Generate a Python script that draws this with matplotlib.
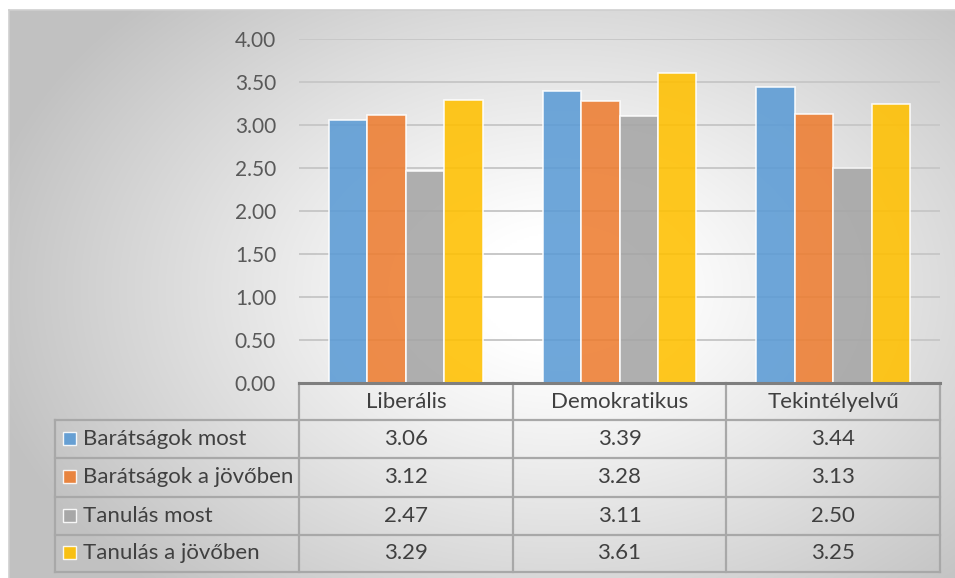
import numpy as np
import matplotlib
matplotlib.use("Agg")
import matplotlib.pyplot as plt
from matplotlib.transforms import blended_transform_factory
from matplotlib.patches import Rectangle

plt.rcParams['font.family'] = ['Lato', 'DejaVu Sans']

# ---- data -------------------------------------------------------------
categories = ["Liberális", "Demokratikus", "Tekintélyelvű"]
series_names = ["Barátságok most", "Barátságok a jövőben",
                "Tanulás most", "Tanulás a jövőben"]
barat_most = [3.06, 3.39, 3.44]
barat_jovo = [3.12, 3.28, 3.13]
tanul_most = [2.47, 3.11, 2.50]
tanul_jovo = [3.29, 3.61, 3.25]
y_ticks = [0.0, 0.5, 1.0, 1.5, 2.0, 2.5, 3.0, 3.5, 4.0]

series_values = [barat_most, barat_jovo, tanul_most, tanul_jovo]
colors = ["#5b9bd5", "#ed7d31", "#a5a5a5", "#ffc000"]

W, H = 955, 578
fig = plt.figure(figsize=(W / 100, H / 100), dpi=100)
fig.patch.set_facecolor("white")


def fx(px):
    return px / W


def fy(py):
    return 1 - py / H


# ---- radial gradient background ----------------------------------------
bx0, by0 = 9, 10
bg = fig.add_axes([fx(bx0), 0, 1 - fx(bx0), fy(by0)], zorder=0)
xs = np.linspace(bx0, W, 400)
ys = np.linspace(by0, H, 260)
X, Y = np.meshgrid(xs, ys)
cx, cy, rx, ry = 560, 290, 560, 390
d = np.sqrt(((X - cx) / rx) ** 2 + ((Y - cy) / ry) ** 2)
shade = 1.0 - 0.24 * np.clip((d - 0.15) / 0.9, 0, 1) ** 1.1
img = np.dstack([shade, shade, shade])
bg.imshow(img, aspect="auto", extent=[0, 1, 0, 1], origin="upper",
          interpolation="bilinear")
bg.set_xlim(0, 1)
bg.set_ylim(0, 1)
bg.set_xticks([])
bg.set_yticks([])
for s in ["right", "bottom"]:
    bg.spines[s].set_visible(False)
for s in ["top", "left"]:
    bg.spines[s].set_color("#cfcfcf")
    bg.spines[s].set_linewidth(1.2)

# ---- bar plot -----------------------------------------------------------
ax_l, ax_r, ax_t, ax_b = 299, 940, 39, 383
ax = fig.add_axes([fx(ax_l), fy(ax_b), fx(ax_r - ax_l), fy(ax_t) - fy(ax_b)],
                  zorder=2)
ax.patch.set_visible(False)

n = len(series_values)
bw = 0.18
x = np.arange(len(categories))
for i, (vals, col) in enumerate(zip(series_values, colors)):
    ax.bar(x + (i - (n - 1) / 2) * bw, vals, width=bw, color=col, alpha=0.88,
           edgecolor=(1, 1, 1, 0.55), linewidth=1.2, zorder=3)

ax.set_xlim(-0.5, len(categories) - 0.5)
ax.set_ylim(0, 4)
ax.set_yticks(y_ticks)
ax.set_yticklabels([f"{v:.2f}" for v in y_ticks])
ax.tick_params(axis="y", length=0, pad=16.5, labelsize=15, labelcolor="#595959")
ax.set_xticks([])
ax.yaxis.grid(True, color="#c8c8c8", linewidth=1.4, zorder=1)
ax.set_axisbelow(True)
for s in ax.spines.values():
    s.set_visible(False)

# ---- data table ----------------------------------------------------------
tr = blended_transform_factory(ax.transData, fig.transFigure)
line_col = "#a8a8a8"
text_col = "#404040"
tfs = 16
row_y = [383, 420, 458, 496.5, 534.5, 572]
col_x = [-0.5, 0.5, 1.5, 2.5]
left_px = 55

# horizontal lines
for yy in row_y[1:]:
    fig.add_artist(plt.Line2D([fx(left_px), fx(ax_r)], [fy(yy), fy(yy)],
                              transform=fig.transFigure, color=line_col,
                              linewidth=1.6, zorder=4))
# vertical lines for category columns
for cxv in col_x:
    fig.add_artist(plt.Line2D([cxv, cxv], [fy(row_y[0]), fy(row_y[-1])],
                              transform=tr, color=line_col, linewidth=1.6,
                              zorder=4))
# left column border
fig.add_artist(plt.Line2D([fx(left_px), fx(left_px)],
                          [fy(row_y[1]), fy(row_y[-1])],
                          transform=fig.transFigure, color=line_col,
                          linewidth=1.6, zorder=4))
# category axis baseline on top of the header row
fig.add_artist(plt.Line2D([-0.5, 2.5], [fy(row_y[0]), fy(row_y[0])],
                          transform=tr, color="#7f7f7f", linewidth=2.2,
                          zorder=5))

# header texts
for i, cat in enumerate(categories):
    fig.text(x[i], fy((row_y[0] + row_y[1]) / 2), cat, transform=tr,
             ha="center", va="center", fontsize=tfs, color=text_col, zorder=6)

# series rows
for r, (name, vals, col) in enumerate(zip(series_names, series_values, colors)):
    ymid = (row_y[r + 1] + row_y[r + 2]) / 2
    fig.add_artist(Rectangle((fx(63), fy(ymid + 6)), fx(13), fy(ymid - 7) - fy(ymid + 6),
                             transform=fig.transFigure, facecolor=col,
                             edgecolor=(1, 1, 1, 0.6), linewidth=1.0, zorder=6,
                             alpha=0.9))
    fig.text(fx(83), fy(ymid), name, ha="left", va="center", fontsize=tfs,
             color=text_col, zorder=6)
    for i, v in enumerate(vals):
        fig.text(x[i], fy(ymid), f"{v:.2f}", transform=tr, ha="center",
                 va="center", fontsize=tfs, color=text_col, zorder=6)

fig.savefig("out.png", dpi=100)
